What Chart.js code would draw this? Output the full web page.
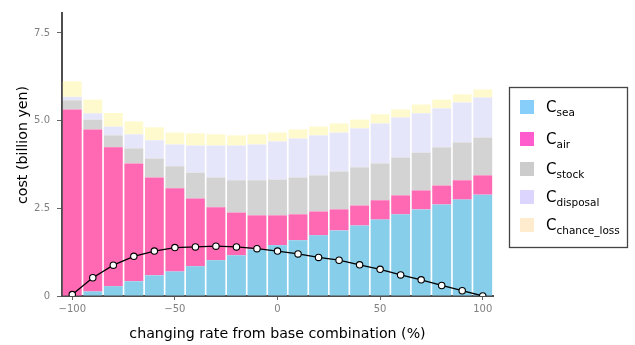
<!DOCTYPE html>
<html>
<head>
<meta charset="utf-8">
<script src="https://cdn.jsdelivr.net/npm/chart.js@4/dist/chart.umd.min.js"></script>
<style>
  html, body { margin: 0; padding: 0; background: #ffffff; }
  #wrap { width: 635px; height: 345px; }
</style>
</head>
<body>
<div id="wrap"><canvas id="c" width="635" height="345"></canvas></div>
<script>
// changing rate from the base combination (%)
const rates = [-100, -90, -80, -70, -60, -50, -40, -30, -20, -10, 0, 10, 20, 30, 40, 50, 60, 70, 80, 90, 100];

// cost components (billion yen), stacked bottom to top
const cSea        = [0.00, 0.13, 0.28, 0.42, 0.59, 0.70, 0.85, 1.02, 1.16, 1.33, 1.45, 1.59, 1.73, 1.87, 2.01, 2.18, 2.33, 2.47, 2.61, 2.75, 2.89];
const cAir        = [5.32, 4.62, 3.96, 3.36, 2.79, 2.37, 1.93, 1.51, 1.22, 0.97, 0.85, 0.74, 0.68, 0.60, 0.57, 0.55, 0.54, 0.54, 0.54, 0.55, 0.55];
const cStock      = [0.26, 0.28, 0.34, 0.43, 0.54, 0.63, 0.74, 0.85, 0.92, 1.00, 1.02, 1.05, 1.03, 1.08, 1.09, 1.05, 1.08, 1.08, 1.09, 1.08, 1.08];
const cDisposal   = [0.10, 0.18, 0.25, 0.40, 0.52, 0.62, 0.77, 0.91, 0.99, 1.02, 1.09, 1.11, 1.14, 1.11, 1.11, 1.14, 1.14, 1.12, 1.11, 1.14, 1.14];
const cChanceLoss = [0.44, 0.39, 0.39, 0.37, 0.37, 0.34, 0.35, 0.32, 0.29, 0.29, 0.25, 0.26, 0.25, 0.26, 0.25, 0.26, 0.23, 0.25, 0.25, 0.23, 0.23];

// overlaid curve
const curve = [0.04, 0.52, 0.88, 1.13, 1.28, 1.38, 1.40, 1.42, 1.40, 1.35, 1.28, 1.20, 1.10, 1.02, 0.89, 0.76, 0.60, 0.46, 0.30, 0.15, 0.00];

// axis ticks
const xTicks = [-100, -50, 0, 50, 100];
const yTicks = [0, 2.5, 5.0, 7.5];

// legend entries: "C" with subscript
const legendSubs = ['sea', 'air', 'stock', 'disposal', 'chance_loss'];

const barColors    = ['#87CEEB', '#FF69B4', '#D3D3D3', '#E6E6FA', '#FFFACD'];
const legendColors = ['#87CEFA', '#FF5CCD', '#CCCCCC', '#DCD6FF', '#FFEBCD'];

const FONT = "'DejaVu Sans', Verdana, sans-serif";

const series = [cSea, cAir, cStock, cDisposal, cChanceLoss];
const toXY = arr => arr.map((v, i) => ({ x: rates[i], y: v }));

const barSets = series.map((arr, k) => ({
  type: 'bar',
  label: 'C_' + legendSubs[k],
  data: toXY(arr),
  backgroundColor: barColors[k],
  borderWidth: 0,
  categoryPercentage: 0.92,
  barPercentage: 1.0,
  stack: 'cost',
  order: 1
}));

const lineSet = {
  type: 'line',
  label: 'curve',
  data: toXY(curve),
  stack: 'curve',
  borderColor: '#000000',
  borderWidth: 1.3,
  pointRadius: 3.2,
  pointBorderWidth: 1.1,
  pointBackgroundColor: '#ffffff',
  pointBorderColor: '#000000',
  tension: 0,
  order: 0
};

// axis titles and legend box with subscripted labels
const decorations = {
  id: 'decorations',
  afterDraw(chart) {
    const ctx = chart.ctx;
    const area = chart.chartArea;
    ctx.save();
    ctx.fillStyle = '#000';
    ctx.textAlign = 'center';
    ctx.textBaseline = 'alphabetic';
    ctx.font = '14.2px ' + FONT;
    ctx.fillText('changing rate from base combination (%)', (area.left + area.right) / 2, 338);
    ctx.translate(27, 145);
    ctx.rotate(-Math.PI / 2);
    ctx.fillText('cost (billion yen)', 0, 0);
    ctx.restore();

    // legend
    ctx.save();
    ctx.strokeStyle = '#444';
    ctx.lineWidth = 1.3;
    ctx.strokeRect(509.5, 87.5, 118, 160);
    const tops = [100, 132, 162, 190, 218];
    legendSubs.forEach((s, k) => {
      const y0 = tops[k];
      ctx.fillStyle = legendColors[k];
      ctx.fillRect(520, y0, 14, 14);
      ctx.fillStyle = '#000';
      ctx.textAlign = 'left';
      ctx.font = '15px ' + FONT;
      ctx.fillText('C', 546, y0 + 11.5);
      const w = ctx.measureText('C').width;
      ctx.font = '10.5px ' + FONT;
      ctx.fillText(s, 546 + w, y0 + 15.5);
    });
    ctx.restore();
  }
};

new Chart(document.getElementById('c'), {
  data: { datasets: [...barSets, lineSet] },
  options: {
    responsive: false,
    animation: false,
    layout: { padding: { top: 12, right: 142, bottom: 0, left: 0 } },
    plugins: { legend: { display: false }, tooltip: { enabled: false } },
    scales: {
      x: {
        type: 'linear',
        stacked: true,
        offset: false,
        min: -105,
        max: 105,
        afterBuildTicks: s => { s.ticks = xTicks.map(v => ({ value: v })); },
        afterFit: s => { s.height = 49; },
        ticks: {
          color: '#808080',
          font: { family: FONT, size: 10 },
          padding: 3,
          maxRotation: 0,
          callback: v => String(v).replace('-', '\u2212')
        },
        grid: { offset: false, drawOnChartArea: false, drawTicks: true, tickLength: 4, tickColor: '#666', tickWidth: 1 },
        border: { display: true, color: '#4d4d4d', width: 2 }
      },
      y: {
        type: 'linear',
        stacked: true,
        min: 0,
        max: 8.07,
        afterBuildTicks: s => { s.ticks = yTicks.map(v => ({ value: v })); },
        afterFit: s => { s.width = 62; },
        ticks: {
          color: '#808080',
          font: { family: FONT, size: 10 },
          padding: 7,
          callback: v => (v === 0 ? '0' : v.toFixed(1))
        },
        grid: { drawOnChartArea: false, drawTicks: true, tickLength: 5, tickColor: '#666', tickWidth: 1 },
        border: { display: true, color: '#4d4d4d', width: 2 }
      }
    }
  },
  plugins: [decorations]
});
</script>
</body>
</html>
